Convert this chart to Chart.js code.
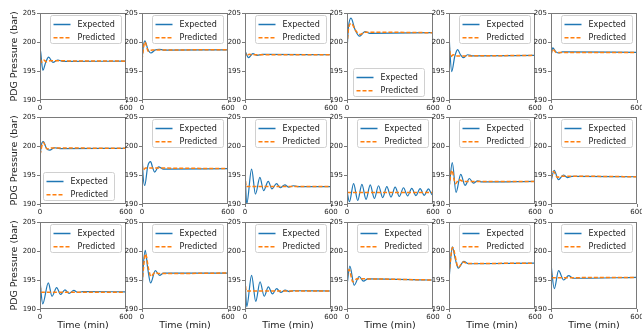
<!DOCTYPE html>
<html><head><meta charset="utf-8">
<script src="https://cdn.jsdelivr.net/npm/chart.js@4/dist/chart.umd.min.js"></script>
<style>
html,body{margin:0;padding:0;background:#fff;width:642px;height:331px;overflow:hidden;}
#wrap{position:relative;width:642px;height:331px;overflow:hidden;}
canvas{position:absolute;}
</style></head><body><div id="wrap"></div>
<script>
const seriesNames = ['Expected', 'Predicted'];
const yTicks = [190, 195, 200, 205];
const xTicks = [0, 600];
const yTitle = 'PDG Pressure (bar)';
const xTitle = 'Time (min)';

// Expected series (time in min, pressure in bar), panels row by row
const expectedTime = [
  [0,5,20,40,60,90,125,160,600],
  [0,8,20,40,62,90,120,150,600],
  [0,25,55,85,120,600],
  [0,10,28,55,88,125,160,600],
  [0,5,19,40,60,80,100,130,170,600],
  [0,12,35,55,80,600],
  [0,8,23,45,68,100,140,600],
  [0,5,19,40,60,75,88,115,150,600],
  [0,12,46,73,104,130,162,188,220,246,278,305,336,365,600],
  [0,17,46,75,104,133,162,191,220,249,278,307,336,365,394,423,452,481,510,539,568,597,600],
  [0,23,49,82,112,142,170,200,230,600],
  [0,22,52,86,115,145,600],
  [0,19,58,84,116,144,174,203,236,265,300,600],
  [0,8,23,40,60,93,123,150,600],
  [0,12,46,75,105,134,163,192,221,250,280,310,340,600],
  [0,20,50,85,115,145,600],
  [0,23,45,65,103,135,600],
  [0,23,53,88,123,155,600]
];
const expectedBar = [
  [199,198.2,195.1,196.5,197.4,196.5,196.9,196.65,196.7],
  [196.8,199,200.2,198.8,198.1,198.6,198.75,198.6,198.65],
  [198.5,197.3,198,197.7,197.85,197.8],
  [198.5,202.5,204.1,202.2,201.0,201.8,201.5,201.6],
  [201.7,199,194.9,197.5,198.7,197.8,197.3,197.8,197.6,197.7],
  [197.5,199,198.3,198.1,198.3,198.2],
  [197.8,200,200.75,199.6,199.3,199.7,199.55,199.6],
  [199.6,196,193.2,196.5,197.3,196.2,195.5,196.4,196.0,196.1],
  [195.8,190.0,196.0,191.7,194.6,192.3,193.9,192.6,193.5,192.8,193.3,192.9,193.15,193.0,193.0],
  [192.2,190.4,193.5,190.6,193.4,190.8,193.3,190.95,193.15,191.1,193.0,191.2,192.9,191.3,192.8,191.4,192.7,191.45,192.65,191.5,192.6,191.55,191.6],
  [192.5,197.15,192.0,195.1,193.2,194.4,193.6,194.0,193.8,193.9],
  [193.9,195.8,194.2,195.0,194.55,194.75,194.7],
  [194.8,190.9,194.5,192.2,193.7,192.5,193.3,192.7,193.2,192.85,193.0,192.95],
  [192.8,197,200.1,197,194.5,196.6,195.8,196.2,196.2],
  [195.4,190.4,195.8,191.3,194.7,192.2,193.8,192.6,193.5,192.85,193.25,193.0,193.15,193.1],
  [194,197.4,194.1,195.6,194.8,195.2,195.0],
  [195.1,200.7,198.5,197.05,198.2,197.8,197.9],
  [197.7,193.5,196.6,195.0,195.75,195.3,195.45]
];

// Predicted series
const predictedTime = [
  [0,10,25,45,70,600],
  [0,20,45,70,600],
  [0,10,30,50,600],
  [0,12,30,60,90,125,600],
  [0,12,30,60,600],
  [0,12,35,600],
  [0,22,50,80,600],
  [0,8,25,600],
  [0,8,600],
  [0,600],
  [0,20,45,70,100,600],
  [0,18,45,70,600],
  [0,10,600],
  [0,25,45,62,90,120,600],
  [0,8,600],
  [0,15,40,70,600],
  [0,25,65,100,130,600],
  [0,10,600]
];
const predictedBar = [
  [198,196.5,196.9,196.6,196.75,196.7],
  [197,200,198.4,198.6,198.65],
  [198.3,197.6,197.9,197.8,197.8],
  [199.5,202.5,203.2,202,201.3,201.7,201.6],
  [199.5,197.5,197.8,197.6,197.7],
  [198,198.8,198.2,198.2],
  [198.5,200.6,199.5,199.65,199.6],
  [196.8,195.9,196.2,196.1],
  [195,193,193],
  [192,192],
  [193,195.8,193.5,194.2,193.9,193.9],
  [194.5,195.6,194.6,194.8,194.7],
  [194,192.9,192.9],
  [194.5,199.5,197,195.6,196.3,196.1,196.2],
  [195,193.1,193.1],
  [195.5,196.8,194.7,195.2,195.0],
  [196,200.6,197.2,198.1,197.85,197.9],
  [196.5,195.4,195.45]
];

// legend location per panel: ur = upper right, lr = lower right, ll = lower left
const legendLoc = ['ur','ur','ur','lr','ur','ur','ll','ur','ur','ur','ur','ur','ur','ur','ur','ur','ur','ur'];

const colLeft = [40, 142, 245, 347, 449, 551];
const rowTop = [13, 117, 222];
const PW = 86, PH = 87;
const FONT = '"DejaVu Sans", sans-serif';
const SPINE = '#7a7a7a';

const framePlugin = {
  id: 'frame',
  afterDatasetsDraw(chart) {
    const {ctx, chartArea: a} = chart;
    ctx.save();
    ctx.strokeStyle = SPINE;
    ctx.lineWidth = 1;
    ctx.strokeRect(Math.round(a.left) + 0.5, Math.round(a.top) + 0.5, Math.round(a.right - a.left) - 1, Math.round(a.bottom - a.top) - 1);
    ctx.restore();
  }
};

function roundRect(ctx, x, y, w, h, r) {
  ctx.beginPath();
  ctx.moveTo(x + r, y);
  ctx.lineTo(x + w - r, y); ctx.arcTo(x + w, y, x + w, y + r, r);
  ctx.lineTo(x + w, y + h - r); ctx.arcTo(x + w, y + h, x + w - r, y + h, r);
  ctx.lineTo(x + r, y + h); ctx.arcTo(x, y + h, x, y + h - r, r);
  ctx.lineTo(x, y + r); ctx.arcTo(x, y, x + r, y, r);
  ctx.closePath();
}

const legendPlugin = {
  id: 'panelLegend',
  afterDraw(chart, args, opts) {
    const {ctx, chartArea: a} = chart;
    const w = 71, h = 28;
    let x, y;
    if (opts.loc === 'lr') { x = a.right - 9 - w; y = a.bottom - 4 - h; }
    else if (opts.loc === 'll') { x = a.left + 3; y = a.bottom - 4 - h; }
    else { x = a.right - 5 - w; y = a.top + 2; }
    x = Math.round(x) + 0.5; y = Math.round(y) + 0.5;
    ctx.save();
    roundRect(ctx, x, y, w, h, 2);
    ctx.fillStyle = 'rgba(255,255,255,0.8)';
    ctx.fill();
    ctx.strokeStyle = '#d0d0d0';
    ctx.lineWidth = 1;
    ctx.stroke();
    chart.data.datasets.forEach((ds, k) => {
      const cy = y + 9 + k * 13.3;
      ctx.beginPath();
      ctx.setLineDash(ds.borderDash || []);
      ctx.strokeStyle = ds.borderColor;
      ctx.lineWidth = 1.5;
      ctx.moveTo(x + 3, cy); ctx.lineTo(x + 20, cy);
      ctx.stroke();
      ctx.setLineDash([]);
      ctx.fillStyle = '#222';
      ctx.font = '8px ' + FONT;
      ctx.textBaseline = 'middle';
      ctx.textAlign = 'left';
      ctx.fillText(ds.label, x + 27, cy);
    });
    ctx.restore();
  }
};

const wrap = document.getElementById('wrap');
for (let i = 0; i < 18; i++) {
  const r = Math.floor(i / 6), c = i % 6;
  const ML = c === 0 ? 40 : 24, MR = 12, MT = 6, MB = r === 2 ? 22 : 12;
  const cv = document.createElement('canvas');
  cv.width = ML + PW + MR; cv.height = MT + PH + MB;
  cv.style.left = (colLeft[c] - ML) + 'px';
  cv.style.top = (rowTop[r] - MT) + 'px';
  wrap.appendChild(cv);

  const expData = expectedTime[i].map((t, k) => ({x: t, y: expectedBar[i][k]}));
  const preData = predictedTime[i].map((t, k) => ({x: t, y: predictedBar[i][k]}));

  new Chart(cv, {
    type: 'line',
    data: {
      datasets: [
        {label: seriesNames[0], data: expData, borderColor: '#1f77b4', borderWidth: 1.2, pointRadius: 0, cubicInterpolationMode: 'monotone', fill: false, order: 2},
        {label: seriesNames[1], data: preData, borderColor: '#ff7f0e', borderWidth: 1.5, borderDash: [4, 2], pointRadius: 0, cubicInterpolationMode: 'monotone', fill: false, order: 1}
      ]
    },
    options: {
      responsive: false,
      animation: false,
      events: [],
      layout: {padding: {top: MT, right: MR, left: 0, bottom: 0}},
      plugins: {legend: {display: false}, tooltip: {enabled: false}, panelLegend: {loc: legendLoc[i]}},
      scales: {
        x: {
          type: 'linear', min: 0, max: 600,
          border: {display: false},
          grid: {display: true, drawOnChartArea: false, drawTicks: true, tickLength: 3, color: SPINE},
          ticks: {autoSkip: false, maxRotation: 0, padding: 1, color: '#222', font: {family: FONT, size: 7}},
          title: {display: r === 2, text: xTitle, color: '#222', font: {family: FONT, size: 9.5}, padding: {top: 0, bottom: 0}},
          afterBuildTicks: s => { s.ticks = xTicks.map(v => ({value: v})); },
          afterFit: s => { s.height = MB; s.paddingLeft = 0; s.paddingRight = 0; }
        },
        y: {
          type: 'linear', min: 190, max: 205,
          border: {display: false},
          grid: {display: true, drawOnChartArea: false, drawTicks: true, tickLength: 3, color: SPINE},
          ticks: {padding: 1, color: '#222', font: {family: FONT, size: 7}},
          title: {display: c === 0, text: yTitle, color: '#222', font: {family: FONT, size: 9.5}, padding: {top: 9.3, bottom: 0}},
          afterBuildTicks: s => { s.ticks = yTicks.map(v => ({value: v})); },
          afterFit: s => { s.width = ML; s.paddingTop = 0; s.paddingBottom = 0; }
        }
      }
    },
    plugins: [framePlugin, legendPlugin]
  });
}
</script>
</body></html>
